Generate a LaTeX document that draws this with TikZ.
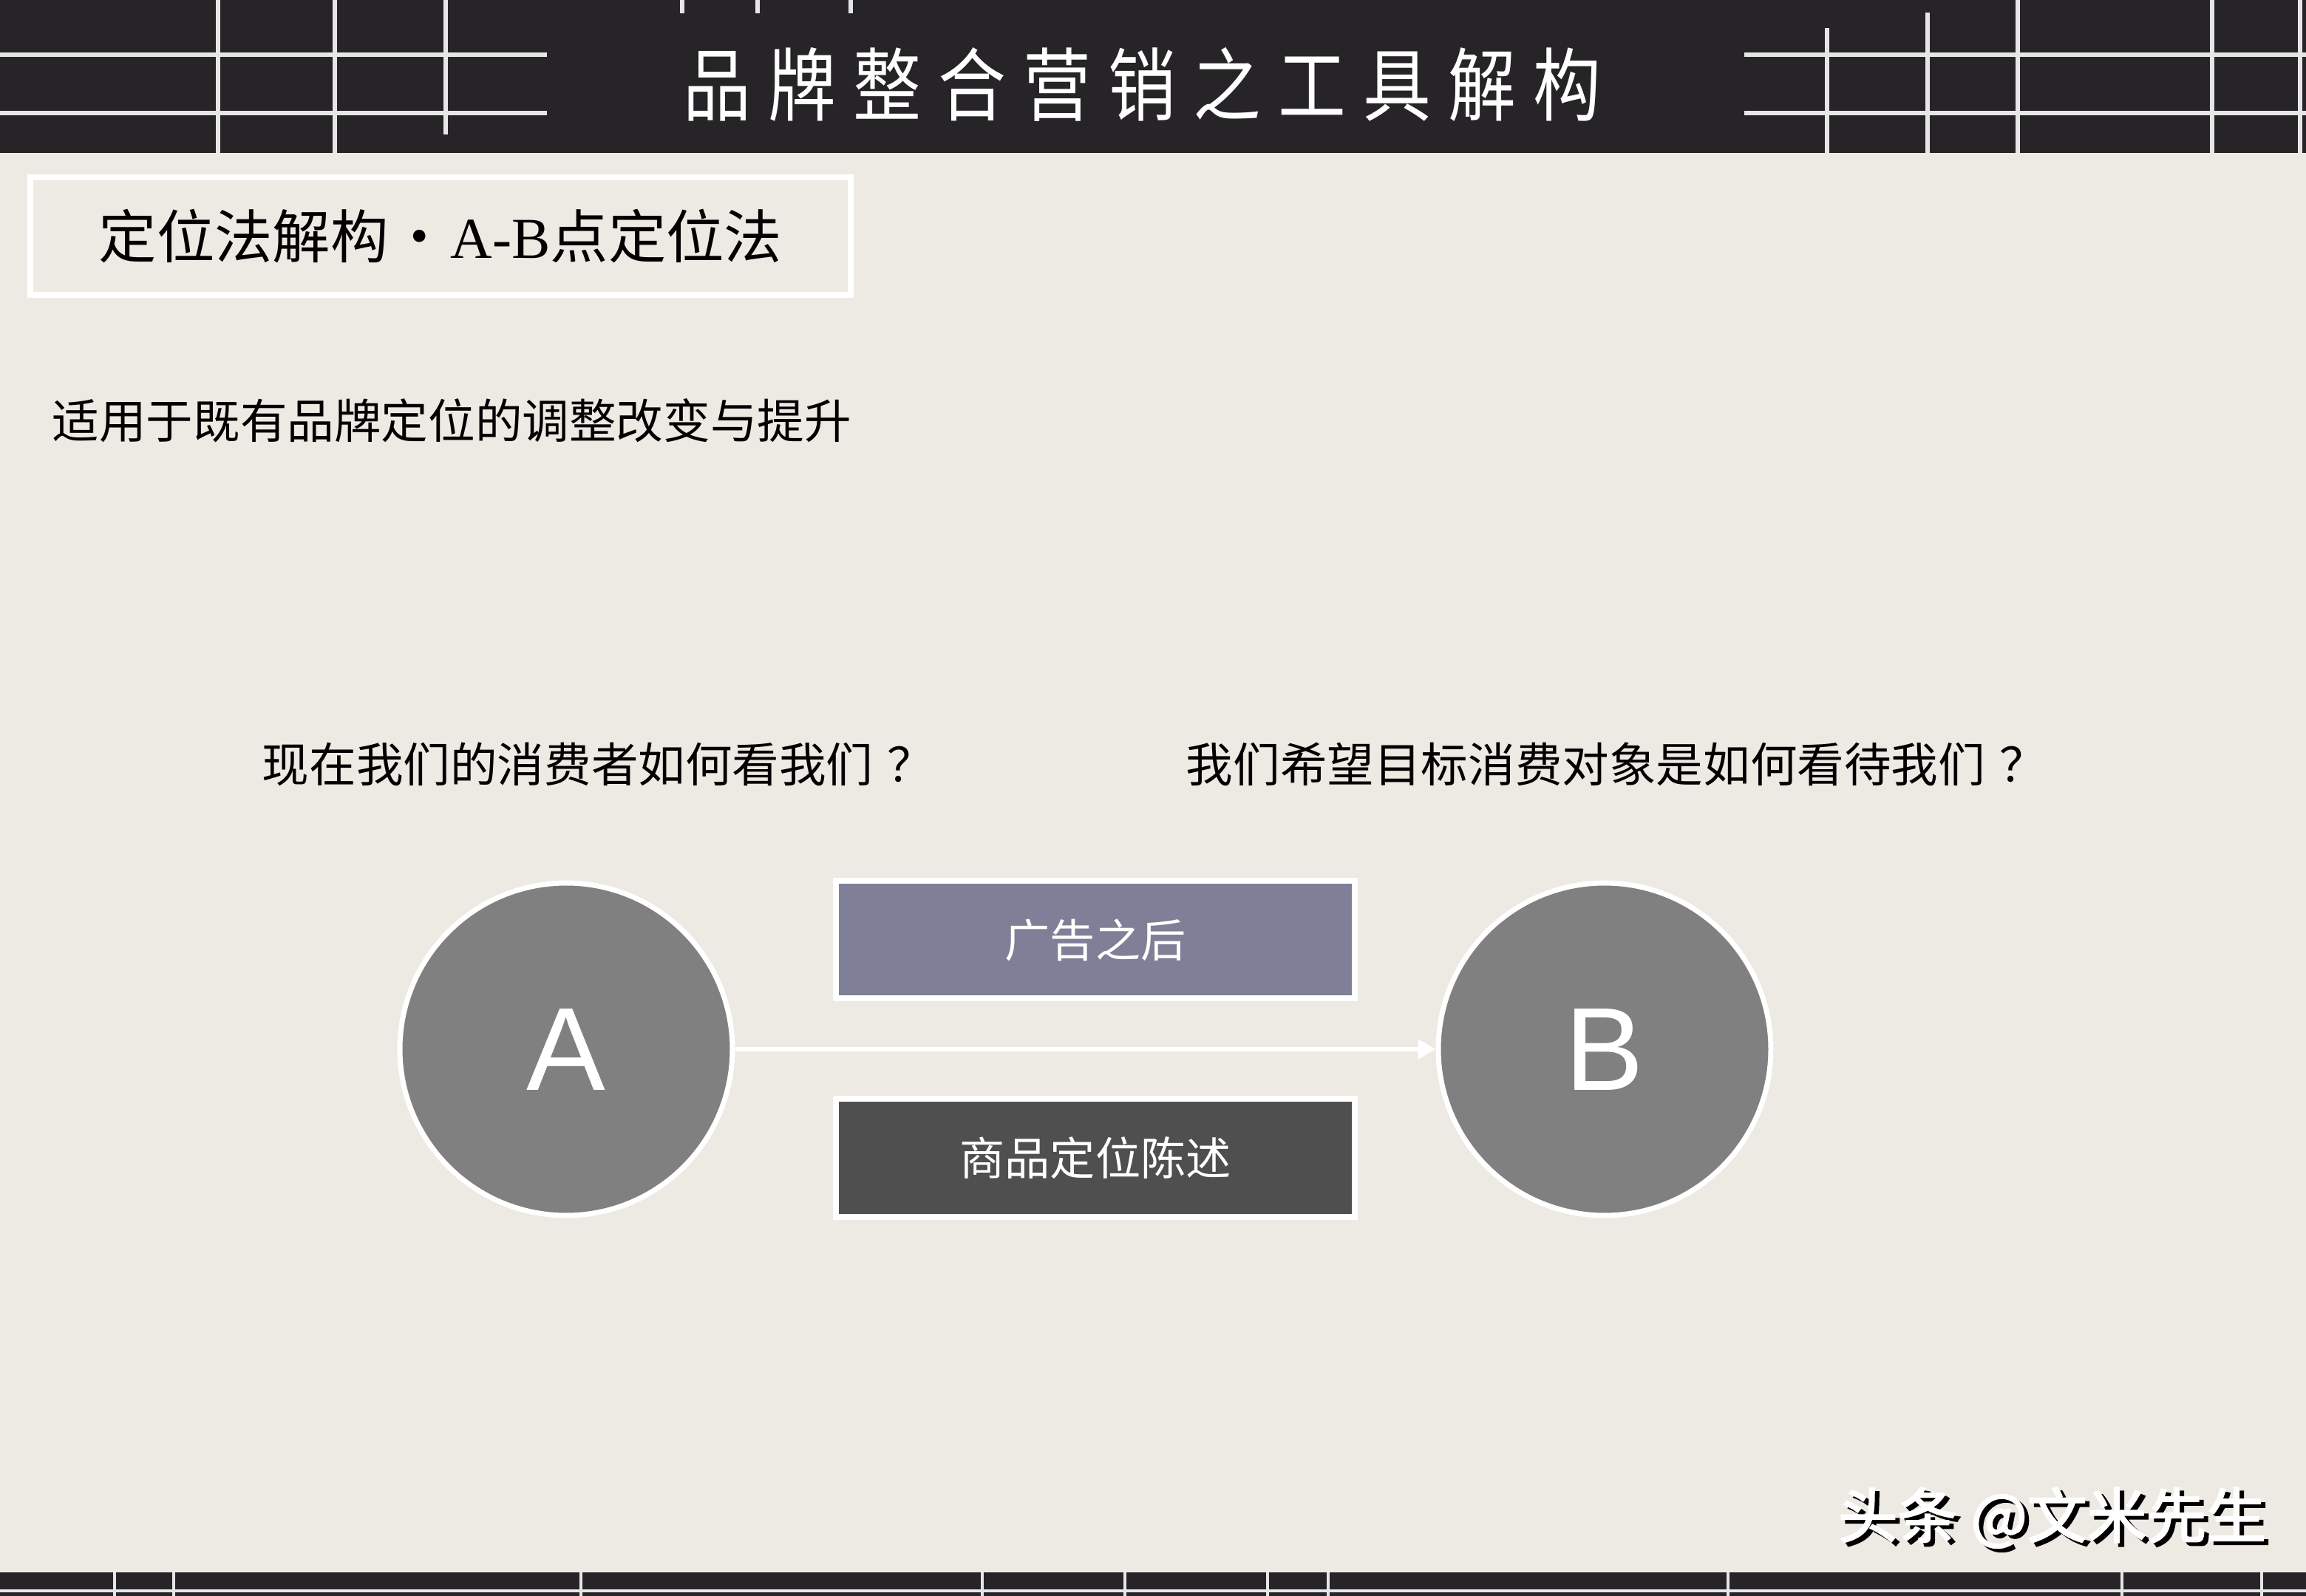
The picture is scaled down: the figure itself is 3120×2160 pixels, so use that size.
\documentclass[tikz,border=0pt]{standalone}
\usepackage{fontspec}
\setmainfont{Liberation Sans}
\newfontfamily\cjk{Noto Sans CJK SC}
\newfontfamily\cjkc[FakeStretch=0.85]{Noto Sans CJK SC}
\newfontfamily\cjkb[FakeBold=2.5]{Noto Sans CJK SC}
\newfontfamily\lserif{Liberation Serif}
\usetikzlibrary{arrows.meta}
\definecolor{bg}{HTML}{EDE9E3}
\definecolor{hdr}{HTML}{262427}
\definecolor{hline}{HTML}{E6E6E6}
\definecolor{cgray}{HTML}{808080}
\definecolor{pgray}{HTML}{7F7F97}
\definecolor{dgray}{HTML}{4F4F4F}
\newcommand\tch[1]{\makebox[28.75pt]{#1}}
\newcommand\qm{\hspace{0.3em}？}
\tikzset{
  gridline/.style={draw=hline, line width=1.5pt},
  footline/.style={draw=hline, line width=0.8pt},
  txt/.style={inner sep=0pt, font=\cjk\fontsize{15.9pt}{18pt}\selectfont, text=black},
  ball/.style={circle, fill=cgray, draw=white, line width=1.75pt, minimum size=112.5pt, inner sep=0pt,
    text=white, font=\fontsize{40pt}{44pt}\selectfont},
  panel/.style={rectangle, draw=white, line width=2pt, minimum width=175.5pt, minimum height=39.75pt,
    inner sep=0pt, text=white, font=\cjk\fontsize{15.3pt}{18pt}\selectfont},
  flow/.style={draw=white, line width=1.5pt, -{Triangle[length=6pt,width=6.5pt]}},
  wmark/.style={inner sep=0pt, anchor=west, font=\cjkb\fontsize{20.2pt}{24pt}\selectfont}
}
\begin{document}
\begin{tikzpicture}[x=0.25pt,y=-0.25pt]
\useasboundingbox (0,0) rectangle (3120,2160);
\fill[bg] (0,0) rectangle (3120,2160);
% header band
\fill[hdr] (0,0) rectangle (3120,207);
\draw[gridline] (0,74) -- (740,74) (0,153) -- (740,153);
\draw[gridline] (295,0) -- (295,207) (453,0) -- (453,207) (603,0) -- (603,182);
\draw[gridline] (923,0) -- (923,18) (1025,0) -- (1025,18) (1151,0) -- (1151,18);
\draw[gridline] (2360,74) -- (3120,74) (2360,153) -- (3120,153);
\draw[gridline] (2472,38) -- (2472,207) (2608,17) -- (2608,207) (2730,0) -- (2730,207)
  (2993,0) -- (2993,207) (3112,0) -- (3112,207);
\node[inner sep=0pt, text=white, font=\cjkc\fontsize{27pt}{30pt}\selectfont] (title) at (1545,114)
  {\tch{品}\tch{牌}\tch{整}\tch{合}\tch{营}\tch{销}\tch{之}\tch{工}\tch{具}\tch{解}\tch{构}};
% footer band
\fill[hdr] (0,2128) rectangle (3120,2160);
\draw[footline] (0,2153) -- (3120,2153);
\foreach \fx in {155,235,786,1329,1522,1715,1797,2338,2871,3060}
  \draw[footline] (\fx,2128) -- (\fx,2160);
% section title box
\node[rectangle, draw=white, line width=2pt, minimum width=277.5pt, minimum height=39.75pt, inner sep=0pt,
  font=\cjk\fontsize{19.6pt}{24pt}\selectfont] (sect) at (596,320)
  {定位法解构\makebox[21pt]{・}{\lserif A-B}点定位法};
\node[txt, anchor=west] (sub) at (70,569) {适用于既有品牌定位的调整改变与提升};
\node[txt, anchor=west] (q1) at (354,1034) {现在我们的消费者如何看我们\qm};
\node[txt, anchor=west] (q2) at (1604,1034) {我们希望目标消费对象是如何看待我们\qm};
% diagram
\node[ball] (A) at (766,1420) {A};
\node[ball] (B) at (2171,1420) {B};
\node[panel, fill=pgray] (ad) at (1482,1272) {广告之后};
\node[panel, fill=dgray] (stmt) at (1482,1567) {商品定位陈述};
\draw[flow] (A) -- (B);
% watermark
\node[wmark, text=black] (wms) at (2492,2059) {头条 @文米先生};
\node[wmark, text=white] (wm) at (2486,2054) {头条 @文米先生};
\end{tikzpicture}
\end{document}
